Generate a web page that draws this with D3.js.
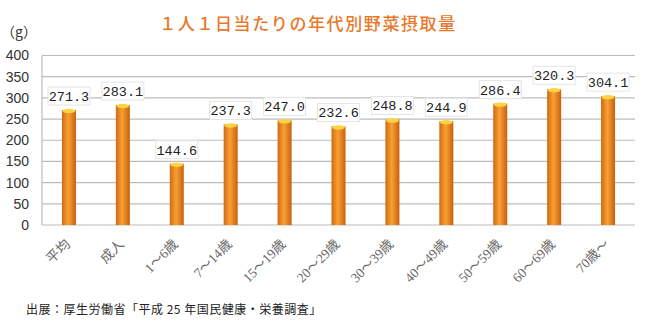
<!DOCTYPE html>
<html><head><meta charset="utf-8">
<script src="https://cdn.jsdelivr.net/npm/d3@7"></script>
<style>body{margin:0;background:#fff}</style>
</head><body>
<svg id="c" width="645" height="324"></svg>
<script>
const categories = ["平均","成人","1～6歳","7～14歳","15～19歳","20～29歳","30～39歳","40～49歳","50～59歳","60～69歳","70歳～"];
const values = [271.3,283.1,144.6,237.3,247.0,232.6,248.8,244.9,286.4,320.3,304.1];
const yTicks = [0,50,100,150,200,250,300,350,400];
const title = "１人１日当たりの年代別野菜摂取量";
const unit = "（g）";
const source = "出展：厚生労働省「平成 25 年国民健康・栄養調査」";

const svg = d3.select("#c");
const m = {l:42, r:10, t:55.5, b:99};
const W = 645, H = 324;
const x = d3.scaleBand().domain(categories).range([m.l, W-m.r]).paddingInner(0.74).paddingOuter(0.37);
const y = d3.scaleLinear().domain([0,400]).range([H-m.b, m.t]);

const defs = svg.append("defs");
const g = defs.append("linearGradient").attr("id","bg").attr("x1","0").attr("x2","1").attr("y1","0").attr("y2","0");
g.append("stop").attr("offset","0%").attr("stop-color","#d06a12");
g.append("stop").attr("offset","45%").attr("stop-color","#f7a035");
g.append("stop").attr("offset","100%").attr("stop-color","#c9600c");

// gridlines
svg.append("g").selectAll("line").data(yTicks).join("line")
  .attr("x1",m.l).attr("x2",W-m.r).attr("y1",d=>y(d)).attr("y2",d=>y(d))
  .attr("stroke","#bcbcbc").attr("stroke-width",1.2);
svg.append("line").attr("x1",m.l).attr("x2",m.l).attr("y1",y(400)).attr("y2",y(0)).attr("stroke","#bcbcbc").attr("stroke-width",1.2);

// y axis labels
const ya = d3.axisLeft(y).tickValues(yTicks).tickSize(0).tickPadding(13);
const yg = svg.append("g").attr("transform",`translate(${m.l},0)`).call(ya);
yg.select(".domain").remove();
yg.selectAll("text").attr("font-family","Liberation Sans, Arial, sans-serif").attr("font-size",14).attr("fill","#333");

// bars
const bars = svg.append("g");
bars.selectAll("rect").data(values).join("rect")
  .attr("x",(d,i)=>x(categories[i])).attr("width",x.bandwidth())
  .attr("y",d=>y(d)).attr("height",d=>y(0)-y(d)).attr("fill","url(#bg)");
bars.selectAll("ellipse").data(values).join("ellipse")
  .attr("cx",(d,i)=>x(categories[i])+x.bandwidth()/2).attr("cy",d=>y(d)+1)
  .attr("rx",x.bandwidth()/2-0.5).attr("ry",2.2).attr("fill","#ffd23f");

// labels
const lab = svg.append("g").selectAll("g").data(values).join("g")
  .attr("transform",(d,i)=>`translate(${x(categories[i])+x.bandwidth()/2},${y(d)-14})`);
lab.append("rect").attr("x",-21).attr("y",-9).attr("width",42).attr("height",18)
  .attr("fill","#fff").attr("stroke","#e4e4e4");
lab.append("text").text(d=>d.toFixed(1)).attr("text-anchor","middle").attr("dy","0.36em")
  .attr("font-family","Liberation Mono, monospace").attr("font-size",13.5).attr("fill","#222");

// x labels
svg.append("g").selectAll("text").data(categories).join("text")
  .attr("transform",(d)=>`translate(${x(d)+x.bandwidth()/2+2},${y(0)+20}) rotate(-45)`)
  .attr("text-anchor","end")
  .attr("font-family","Liberation Serif, Noto Sans CJK JP, serif").attr("font-size",13.5).attr("fill","#666").text(d=>d);

// title
svg.append("text").attr("x",308).attr("y",30).attr("text-anchor","middle")
  .attr("font-family","Noto Sans CJK JP, sans-serif").attr("font-size",17).attr("letter-spacing",1.6)
  .attr("font-weight",500).attr("fill","#e8782a").text(title);
svg.append("text").attr("x",1).attr("y",37)
  .attr("font-family","Noto Sans CJK JP, sans-serif").attr("font-size",14).attr("fill","#333").text(unit);
svg.append("text").attr("x",26).attr("y",314)
  .attr("font-family","Noto Sans CJK JP, sans-serif").attr("font-size",12).attr("letter-spacing",0.5).attr("fill","#222").text(source);
</script>
</body></html>
